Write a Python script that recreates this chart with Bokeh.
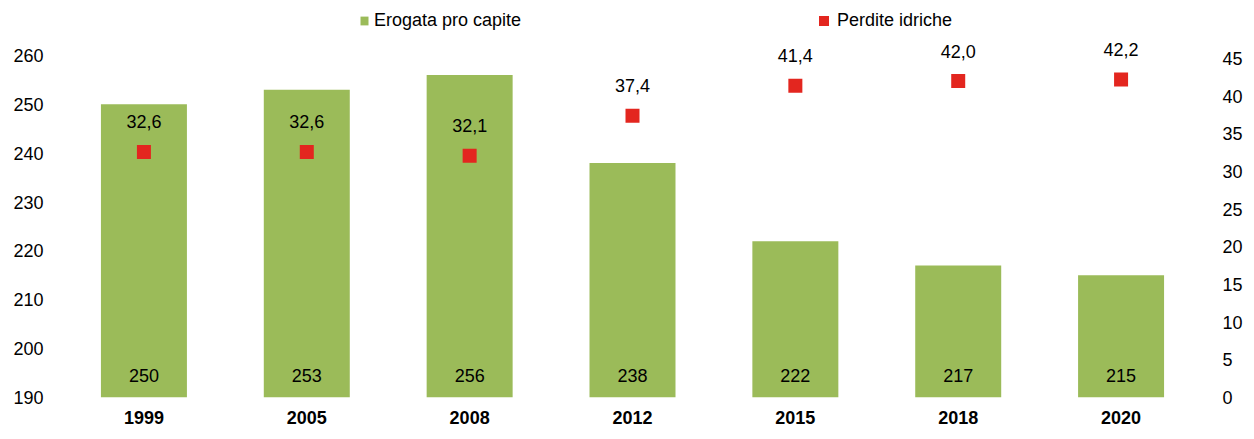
from bokeh.plotting import figure
from bokeh.models import (Range1d, LinearAxis, FactorRange, ColumnDataSource, LabelSet,
                          Legend, LegendItem, FixedTicker)
from bokeh.core.properties import value
from bokeh.embed import file_html
from bokeh.resources import INLINE

# ---- data ----
years = ["1999", "2005", "2008", "2012", "2015", "2018", "2020"]
erogata = [250, 253, 256, 238, 222, 217, 215]          # litri per abitante al giorno
perdite = [32.6, 32.6, 32.1, 37.4, 41.4, 42.0, 42.2]   # perdite idriche (%)
left_ticks = [190, 200, 210, 220, 230, 240, 250, 260]
right_ticks = [0, 5, 10, 15, 20, 25, 30, 35, 40, 45]

FONT = "Liberation Sans"
FS = "18px"
GREEN = "#9BBB59"
RED = "#E3261F"

src = ColumnDataSource(dict(
    year=years,
    erogata=erogata,
    perdite=perdite,
    erogata_lbl=[str(v) for v in erogata],
    perdite_lbl=[f"{v:.1f}".replace(".", ",") for v in perdite],
    base=[190] * len(years),
))

# the frame reaches the top of the figure so the legend sits inside it;
# ticks stay fixed to the 190-260 (left) and 0-45 (right) scales
p = figure(x_range=FactorRange(factors=years), y_range=Range1d(190, 271.25),
           width=1246, height=431, output_backend="svg", toolbar_location=None,
           min_border_left=62, min_border_right=44, min_border_top=0, min_border_bottom=34)
p.extra_y_ranges = {"right": Range1d(0, 52.70)}
p.outline_line_color = None
p.xgrid.grid_line_color = None
p.ygrid.grid_line_color = None

bars = p.vbar(x="year", top="erogata", bottom=190, width=0.528, source=src,
              fill_color=GREEN, line_color=None)
pts = p.scatter(x="year", y="perdite", y_range_name="right", source=src,
                marker="square", size=14, fill_color=RED, line_color=None)

p.add_layout(LabelSet(x="year", y="base", text="erogata_lbl", source=src,
                      y_offset=22, text_align="center", text_baseline="middle",
                      text_font=value(FONT), text_font_size=value(FS), text_color="#000000"))
p.add_layout(LabelSet(x="year", y="perdite", text="perdite_lbl", source=src,
                      y_range_name="right", y_offset=30, text_align="center",
                      text_baseline="middle", text_font=value(FONT), text_font_size=value(FS),
                      text_color="#000000"))

rax = LinearAxis(y_range_name="right", ticker=FixedTicker(ticks=right_ticks))
p.add_layout(rax, "right")

for ax in (p.xaxis[0], p.yaxis[0], rax):
    ax.axis_line_color = None
    ax.major_tick_line_color = None
    ax.minor_tick_line_color = None
    ax.major_tick_out = 0
    ax.major_tick_in = 0
    ax.minor_tick_out = 0
    ax.minor_tick_in = 0
    ax.major_label_text_font = FONT
    ax.major_label_text_font_size = FS
    ax.major_label_text_color = "#000000"
p.xaxis[0].major_label_text_font_style = "bold"
p.xaxis[0].major_label_standoff = 13
p.yaxis[0].ticker = FixedTicker(ticks=left_ticks)
p.yaxis[0].major_label_standoff = 19
rax.major_label_standoff = 20

# legends
leg1 = Legend(items=[LegendItem(label="Erogata pro capite", renderers=[bars])],
              location=(297, 366), orientation="horizontal", padding=0, margin=0,
              glyph_width=10, glyph_height=11, label_standoff=5, label_height=20,
              label_text_font=FONT, label_text_font_size=FS, label_text_color="#000000",
              background_fill_alpha=0, border_line_color=None)
leg2 = Legend(items=[LegendItem(label="Perdite idriche", renderers=[pts])],
              location=(749, 364), orientation="horizontal", padding=0, margin=0,
              glyph_width=25, glyph_height=25, label_standoff=1, label_height=20,
              label_text_font=FONT, label_text_font_size=FS, label_text_color="#000000",
              background_fill_alpha=0, border_line_color=None)
p.add_layout(leg1, "center")
p.add_layout(leg2, "center")

open("out.html", "w").write(file_html(p, INLINE))
